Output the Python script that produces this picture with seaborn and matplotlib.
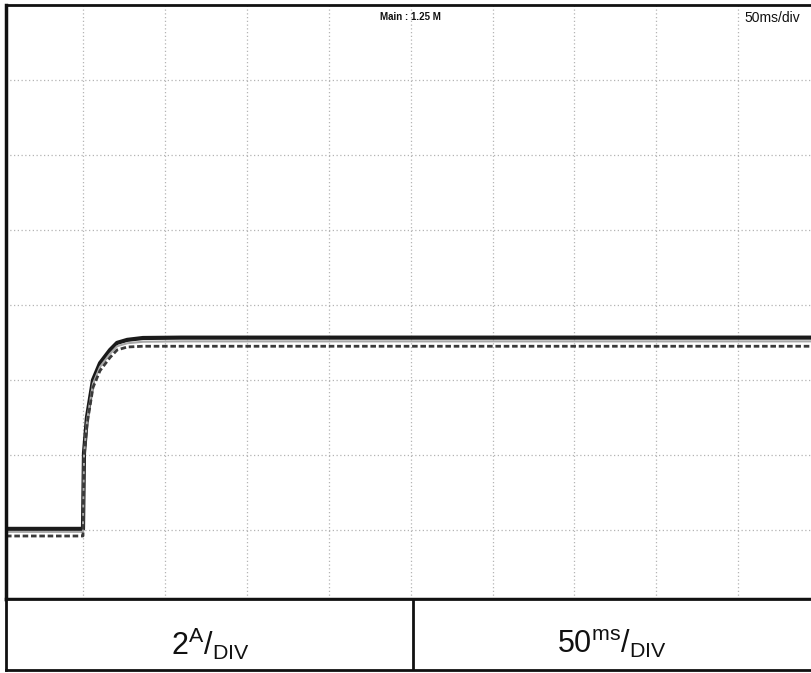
import numpy as np
import pandas as pd
import matplotlib
matplotlib.use("Agg")
import matplotlib.pyplot as plt
import seaborn as sns

# ---- data (time in ms, current in A) ----
t_ms = [-47, -0.01, 0.0, 0.6, 2.4, 6.1, 10.4, 16.5, 20.8, 27.0, 36.6, 60, 120, 200, 300, 445]
trace_upper = [0.03, 0.03, 0.03, 2.05, 3.0, 4.0, 4.45, 4.80, 4.99, 5.07, 5.12, 5.13, 5.13, 5.13, 5.13, 5.13]
trace_mid = [-0.05, -0.05, -0.05, 2.0, 2.9, 3.9, 4.35, 4.70, 4.90, 4.98, 5.02, 5.03, 5.03, 5.03, 5.03, 5.03]
trace_lower = [-0.16, -0.16, -0.16, 1.95, 2.8, 3.8, 4.25, 4.60, 4.80, 4.88, 4.90, 4.90, 4.90, 4.90, 4.90, 4.90]

x_ticks_ms = [0, 50, 100, 150, 200, 250, 300, 350, 400]
y_ticks_a = [0, 2, 4, 6, 8, 10, 12]
scale_labels = ["2", "A", "50", "ms"]

df = pd.concat([
    pd.DataFrame({"t": t_ms, "i": trace_upper, "trace": "upper"}),
    pd.DataFrame({"t": t_ms, "i": trace_mid, "trace": "mid"}),
    pd.DataFrame({"t": t_ms, "i": trace_lower, "trace": "lower"}),
])

sns.set_style("white")
plt.rcParams["font.family"] = ["Liberation Sans", "DejaVu Sans"]
plt.rcParams["mathtext.fontset"] = "custom"
plt.rcParams["mathtext.rm"] = "Liberation Sans"

W, H = 811, 673
fig = plt.figure(figsize=(W / 100, H / 100), dpi=100)
fig.patch.set_facecolor("white")

# main scope axes
ax = fig.add_axes([6 / W, (H - 599) / H, 805 / W, 594 / H])
palette = {"upper": "#1a1a1a", "mid": "#a8a8a8", "lower": "#3a3a3a"}
sizes = {"upper": 3.0, "mid": 1.5, "lower": 2.0}
sns.lineplot(data=df, x="t", y="i", hue="trace", palette=palette,
             size="trace", sizes=sizes, style="trace",
             dashes={"upper": "", "mid": "", "lower": (2, 1)},
             legend=False, ax=ax, estimator=None, sort=False)

ax.set_xlim(-47.0, 444.4)
ax.set_ylim(-1.84, 14.0)
ax.set_xticks(x_ticks_ms)
ax.set_yticks(y_ticks_a)
ax.grid(True, color="#b4b4b4", linestyle=(0, (1, 2)), linewidth=0.9)
ax.tick_params(left=False, bottom=False, labelleft=False, labelbottom=False)
ax.set_xlabel("")
ax.set_ylabel("")
for side in ["left", "top", "bottom"]:
    ax.spines[side].set_visible(True)
    ax.spines[side].set_color("#111111")
ax.spines["left"].set_linewidth(2.5)
ax.spines["top"].set_linewidth(2.0)
ax.spines["bottom"].set_linewidth(2.5)
ax.spines["right"].set_visible(False)

ax.text(0.503, 0.988, "Main : 1.25 M", transform=ax.transAxes, fontsize=7,
        fontweight="bold", ha="center", va="top", color="#111111",
        family=["Liberation Sans Narrow", "Liberation Sans", "DejaVu Sans"])
ax.text(0.987, 0.99, "50ms/div", transform=ax.transAxes, fontsize=10,
        ha="right", va="top", color="#111111",
        family=["Liberation Sans Narrow", "Liberation Sans", "DejaVu Sans"])

# bottom scale box
bx = fig.add_axes([6 / W, (H - 670) / H, 805 / W, 71 / H])
bx.set_xlim(0, 805)
bx.set_ylim(0, 71)
bx.set_xticks([])
bx.set_yticks([])
for side in ["left", "top", "bottom"]:
    bx.spines[side].set_color("#111111")
    bx.spines[side].set_linewidth(2.0)
bx.spines["right"].set_visible(False)
bx.axvline(407, color="#111111", linewidth=2.0)

bx.text(204, 26, r"$\mathregular{%s^{%s}/_{DIV}}$" % (scale_labels[0], scale_labels[1]),
        fontsize=22, ha="center", va="center", color="#111111")
bx.text(606, 26, r"$\mathregular{%s^{%s}/_{DIV}}$" % (scale_labels[2], scale_labels[3]),
        fontsize=22, ha="center", va="center", color="#111111")

fig.savefig("out.png", dpi=100, facecolor="white")
